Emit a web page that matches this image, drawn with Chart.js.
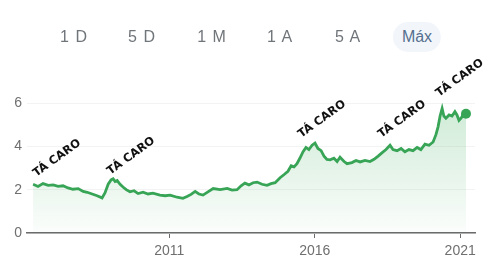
<!DOCTYPE html>
<html>
<head>
<meta charset="utf-8">
<script src="https://cdn.jsdelivr.net/npm/chart.js@4/dist/chart.umd.min.js"></script>
<style>
  body { margin: 0; background: #fff; }
  #wrap { position: relative; width: 500px; height: 276px; }
  .range { position: absolute; top: 28px; font: 16px "Liberation Sans", Arial, sans-serif; color: #70757a; letter-spacing: 1px; transform: translateX(-50%); line-height: 18px; }
  .range.active { color: #56708f; background: #f2f6fb; border-radius: 15px; padding: 6px 9px; top: 22px; letter-spacing: 0; }
</style>
</head>
<body>
<div id="wrap">
  <canvas id="stockChart" width="500" height="276"></canvas>
</div>
<script>
// price history (decimal years / price)
const dates = [
  2006.32, 2006.49, 2006.66, 2006.84, 2007.01, 2007.18, 2007.35, 2007.52, 2007.69, 2007.87,
  2008.04, 2008.18, 2008.35, 2008.52, 2008.69, 2008.79, 2008.90, 2009.00, 2009.07, 2009.14,
  2009.21, 2009.31, 2009.41, 2009.52, 2009.65, 2009.79, 2009.93, 2010.10, 2010.27, 2010.44,
  2010.68, 2010.86, 2011.03, 2011.27, 2011.47, 2011.61, 2011.75, 2011.89, 2012.02, 2012.16,
  2012.33, 2012.51, 2012.75, 2012.99, 2013.16, 2013.33, 2013.47, 2013.60, 2013.74, 2013.88,
  2014.02, 2014.19, 2014.36, 2014.50, 2014.64, 2014.81, 2014.95, 2015.08, 2015.19, 2015.29,
  2015.39, 2015.49, 2015.60, 2015.70, 2015.80, 2015.91, 2016.01, 2016.11, 2016.22, 2016.32,
  2016.42, 2016.53, 2016.66, 2016.77, 2016.87, 2017.01, 2017.11, 2017.28, 2017.42, 2017.56,
  2017.73, 2017.90, 2018.04, 2018.18, 2018.31, 2018.45, 2018.59, 2018.69, 2018.83, 2018.97,
  2019.10, 2019.24, 2019.38, 2019.52, 2019.65, 2019.79, 2019.93, 2020.07, 2020.17, 2020.24,
  2020.31, 2020.38, 2020.44, 2020.51, 2020.62, 2020.72, 2020.82, 2020.89, 2020.96, 2021.03,
  2021.10, 2021.20
];
const prices = [
  2.25, 2.15, 2.28, 2.20, 2.22, 2.15, 2.18, 2.08, 2.02, 2.05,
  1.92, 1.88, 1.80, 1.72, 1.62, 1.85, 2.25, 2.45, 2.50, 2.38,
  2.42, 2.25, 2.12, 2.00, 1.90, 1.95, 1.82, 1.88, 1.80, 1.84,
  1.75, 1.72, 1.75, 1.65, 1.60, 1.68, 1.78, 1.92, 1.80, 1.75,
  1.90, 2.05, 2.00, 2.06, 1.98, 2.00, 2.18, 2.30, 2.22, 2.32,
  2.35, 2.25, 2.20, 2.28, 2.32, 2.55, 2.70, 2.85, 3.10, 3.05,
  3.20, 3.45, 3.75, 3.95, 3.85, 4.05, 4.15, 3.90, 3.80, 3.55,
  3.40, 3.38, 3.45, 3.30, 3.50, 3.30, 3.20, 3.25, 3.35, 3.28,
  3.35, 3.30, 3.40, 3.55, 3.70, 3.85, 4.05, 3.85, 3.80, 3.90,
  3.75, 3.85, 3.80, 3.95, 3.85, 4.10, 4.05, 4.20, 4.55, 4.90,
  5.40, 5.75, 5.40, 5.30, 5.45, 5.40, 5.60, 5.45, 5.20, 5.30,
  5.45, 5.50
];
const xTicks = [2011, 2016, 2021];
const yTicks = [0, 2, 4, 6];
const ranges = ['1 D', '5 D', '1 M', '1 A', '5 A', 'Máx'];

// "TÁ CARO" labels, anchored in data space
const noteText = 'TÁ CARO';
const noteDates = [2007.14, 2009.69, 2016.25, 2019.00, 2020.99];
const noteValues = [3.45, 3.55, 5.25, 5.25, 7.15];

const rangeX = [74, 142, 212, 280, 348, 417];
const wrap = document.getElementById('wrap');
ranges.forEach((r, i) => {
  const el = document.createElement('div');
  el.className = 'range' + (i === ranges.length - 1 ? ' active' : '');
  el.textContent = r;
  el.style.left = rangeX[i] + 'px';
  wrap.appendChild(el);
});

const notesPlugin = {
  id: 'notes',
  afterDraw(chart) {
    const ctx = chart.ctx;
    const xs = chart.scales.x, ys = chart.scales.y;
    ctx.save();
    ctx.font = 'bold 11.5px "DejaVu Sans", sans-serif';
    ctx.fillStyle = '#111';
    ctx.textAlign = 'center';
    ctx.textBaseline = 'middle';
    noteDates.forEach((d, i) => {
      ctx.save();
      ctx.translate(xs.getPixelForValue(d), ys.getPixelForValue(noteValues[i]));
      ctx.rotate(-36 * Math.PI / 180);
      ctx.fillText(noteText, 0, 0);
      ctx.restore();
    });
    ctx.restore();
  }
};

const ctx = document.getElementById('stockChart').getContext('2d');
const lastIndex = prices.length - 1;

new Chart(ctx, {
  type: 'line',
  data: {
    datasets: [{
      data: dates.map((d, i) => ({ x: d, y: prices[i] })),
      borderColor: '#37a456',
      borderWidth: 2.8,
      tension: 0,
      fill: 'origin',
      backgroundColor: (c) => {
        const area = c.chart.chartArea;
        if (!area) return 'rgba(52,168,83,0.15)';
        const g = c.chart.ctx.createLinearGradient(0, area.top, 0, area.bottom);
        g.addColorStop(0, 'rgba(52,168,83,0.24)');
        g.addColorStop(1, 'rgba(52,168,83,0.02)');
        return g;
      },
      pointRadius: (c) => c.dataIndex === lastIndex ? 5 : 0,
      pointBackgroundColor: '#37a456',
      pointBorderWidth: 0
    }]
  },
  options: {
    responsive: false,
    animation: false,
    layout: { padding: { top: 103, right: 25, left: 0, bottom: 0 } },
    plugins: { legend: { display: false }, tooltip: { enabled: false } },
    scales: {
      x: {
        type: 'linear',
        min: 2006.11,
        max: 2021.51,
        afterBuildTicks: (s) => { s.ticks = xTicks.map(v => ({ value: v })); },
        afterFit: (s) => { s.height = 43; },
        border: { display: true, color: '#6b6b6b', width: 1.5 },
        grid: { drawOnChartArea: false, drawTicks: true, tickLength: 5, tickColor: '#6b6b6b' },
        ticks: {
          color: '#6f6f6f',
          font: { size: 14, family: '"Liberation Sans", Arial, sans-serif' },
          padding: 5,
          maxRotation: 0,
          callback: (v) => String(v)
        }
      },
      y: {
        min: 0,
        max: 6,
        afterBuildTicks: (s) => { s.ticks = yTicks.map(v => ({ value: v })); },
        afterFit: (s) => { s.width = 27; },
        border: { display: false },
        grid: { color: '#f3f3f3', drawTicks: false },
        ticks: {
          color: '#6f6f6f',
          font: { size: 14, family: '"Liberation Sans", Arial, sans-serif' },
          padding: 5
        }
      }
    }
  },
  plugins: [notesPlugin]
});
</script>
</body>
</html>
